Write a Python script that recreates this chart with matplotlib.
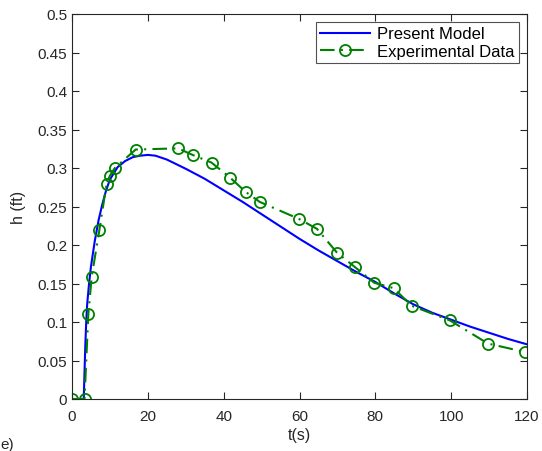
import matplotlib
matplotlib.use("Agg")
import matplotlib.pyplot as plt

plt.rcParams['font.family'] = ['Liberation Sans', 'DejaVu Sans']

# Present Model curve
model_t = [0, 3.1, 3.3, 3.5, 3.75, 4, 4.5, 5, 6, 7, 8, 9, 10, 12, 14, 16, 18, 20, 22, 25,
           30, 35, 40, 45, 50, 55, 60, 65, 70, 75, 80, 85, 90, 95, 100, 105, 110, 115, 120]
model_h = [0, 0, 0.035, 0.068, 0.1, 0.123, 0.15, 0.172, 0.205, 0.232, 0.253, 0.271,
           0.285, 0.301, 0.309, 0.314, 0.316, 0.317, 0.316, 0.311, 0.299, 0.286, 0.271,
           0.256, 0.240, 0.224, 0.208, 0.193, 0.179, 0.165, 0.152, 0.137, 0.123, 0.112,
           0.103, 0.094, 0.086, 0.078, 0.071]

# Experimental Data
exp_t = [0, 3.3, 4.3, 5.2, 7.2, 9.1, 10, 11.3, 16.8, 28, 31.8, 36.8, 41.8, 45.8, 49.5,
         59.8, 64.6, 69.9, 74.7, 79.7, 84.8, 89.6, 99.7, 109.7, 119.5]
exp_h = [0, 0, 0.11, 0.159, 0.219, 0.279, 0.29, 0.30, 0.324, 0.3255, 0.317, 0.307,
         0.287, 0.269, 0.256, 0.234, 0.221, 0.19, 0.171, 0.151, 0.144, 0.121, 0.102,
         0.072, 0.061]

xticks = [0, 20, 40, 60, 80, 100, 120]
yticks = [0, 0.05, 0.1, 0.15, 0.2, 0.25, 0.3, 0.35, 0.4, 0.45, 0.5]
ytick_labels = ['0', '0.05', '0.1', '0.15', '0.2', '0.25', '0.3', '0.35', '0.4', '0.45', '0.5']

fig = plt.figure(figsize=(5.42, 4.52), dpi=100)
ax = fig.add_axes([72/542, 52/452, 455/542, 385/452])

ax.plot(model_t, model_h, color='#0000ff', lw=1.5, label='Present Model')
ax.plot(exp_t, exp_h, color='#008000', lw=1.5, dashes=(7, 3, 1, 3),
        marker='o', markersize=8, markerfacecolor='none', markeredgewidth=1.3,
        label='Experimental Data')

ax.set_xlim(0, 120)
ax.set_ylim(0, 0.5)
ax.set_xticks(xticks)
ax.set_yticks(yticks)
ax.set_yticklabels(ytick_labels)
ax.tick_params(direction='in', top=True, right=True, labelsize=11, length=5,
               colors='#262626', labelcolor='#262626')
ax.tick_params(axis='x', pad=7)
for s in ax.spines.values():
    s.set_color('#262626')
    s.set_linewidth(0.8)
ax.set_xlabel('t(s)', fontsize=11.5, labelpad=3, color='#262626')
ax.set_ylabel('h (ft)', fontsize=11.5, labelpad=8, color='#262626')

leg = ax.legend(loc='upper right', fontsize=12, frameon=True, fancybox=False,
                edgecolor='#262626', handlelength=3.0, borderaxespad=0.5,
                borderpad=0.25, labelspacing=0.15, handletextpad=0.4)
leg.get_frame().set_linewidth(0.8)

fig.text(0.001, 0.0, 'e)', fontsize=11, ha='left', va='bottom', color='#262626')

fig.savefig('out.png', dpi=100)
